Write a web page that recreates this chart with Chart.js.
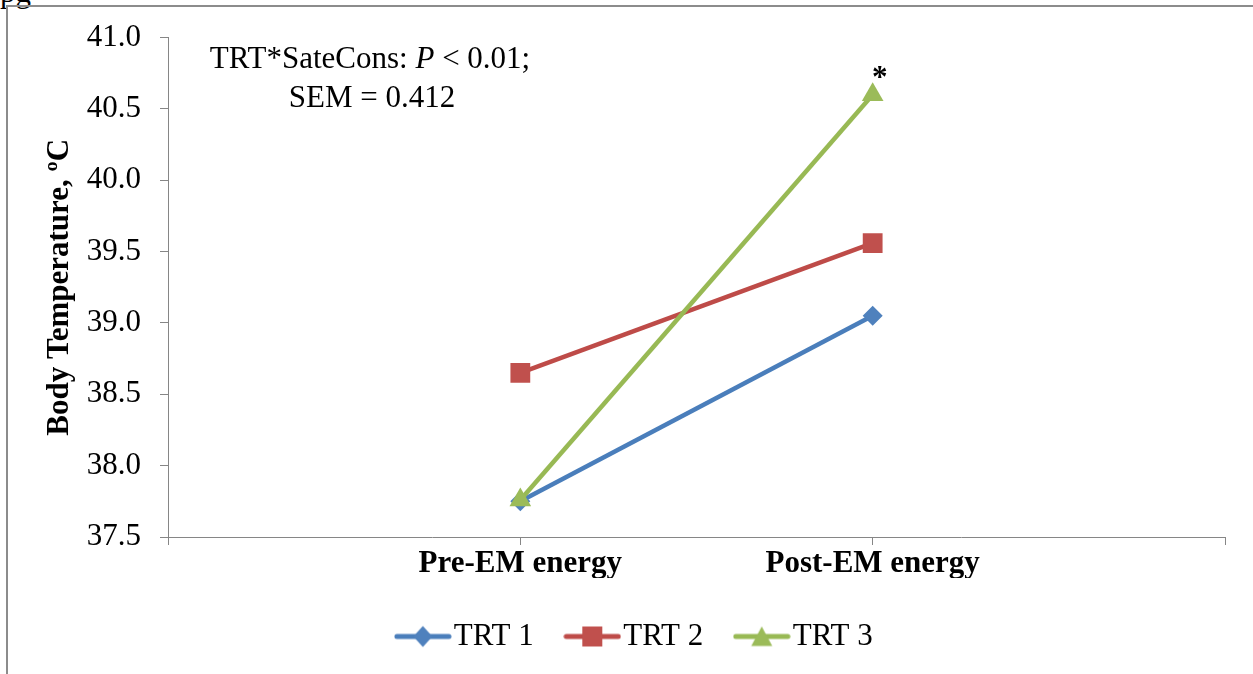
<!DOCTYPE html>
<html>
<head>
<meta charset="utf-8">
<script src="https://cdn.jsdelivr.net/npm/chart.js@4.4.0/dist/chart.umd.min.js"></script>
<style>
  body { margin: 0; background: #fff; overflow: hidden; }
  #wrap { position: relative; width: 1253px; height: 674px; }
  #frame { position: absolute; left: 6px; top: 5px; width: 1300px; height: 700px; border-left: 2px solid #8c8c8c; border-top: 2px solid #8c8c8c; }
  #pg { position: absolute; left: 0; top: -26px; font: 31px 'Liberation Serif', 'Times New Roman', serif; }
  canvas { position: absolute; left: 0; top: 0; }
</style>
</head>
<body>
<div id="wrap">
  <div id="pg">pg</div>
  <div id="frame"></div>
  <canvas id="tempChart" width="1253" height="674"></canvas>
</div>
<script>
const serif = "'Liberation Serif', 'Times New Roman', serif";
const axisGray = '#868686';

const categories = ['', 'Pre-EM energy', 'Post-EM energy', ''];
const seriesNames = ['TRT 1', 'TRT 2', 'TRT 3'];
const trt1 = [null, 37.75, 39.05, null];
const trt2 = [null, 38.65, 39.56, null];
const trt3 = [null, 37.76, 40.60, null];
const yMin = 37.5;
const yMax = 41.0;
const yStep = 0.5;

const markerColors = ['#4F81BD', '#C0504D', '#9BBB59'];
const lineColors = ['#4A7EBB', '#BE4B48', '#98B954'];

// legend icons: short line with the marker in the middle
function legendIcon(lineColor, fill, shape) {
    const c = document.createElement('canvas');
    c.width = 58;
    c.height = 24;
    const g = c.getContext('2d');
    g.strokeStyle = lineColor;
    g.lineWidth = 5;
    g.lineCap = 'round';
    g.beginPath();
    g.moveTo(3, 12);
    g.lineTo(55, 12);
    g.stroke();
    g.fillStyle = fill;
    g.beginPath();
    if (shape === 'diamond') {
        g.moveTo(29, 1.5); g.lineTo(38.5, 12); g.lineTo(29, 22.5); g.lineTo(19.5, 12);
    } else if (shape === 'square') {
        g.rect(19, 2, 20, 20);
    } else {
        g.moveTo(29, 2); g.lineTo(39.5, 21.5); g.lineTo(18.5, 21.5);
    }
    g.closePath();
    g.fill();
    return c;
}
const icons = [
    legendIcon(lineColors[0], markerColors[0], 'diamond'),
    legendIcon(lineColors[1], markerColors[1], 'square'),
    legendIcon(lineColors[2], markerColors[2], 'triangle')
];

const notes = {
    id: 'notes',
    afterDraw(chart) {
        const ctx = chart.ctx;
        const x = chart.scales.x;
        const y = chart.scales.y;
        ctx.save();
        ctx.fillStyle = '#000';
        ctx.textBaseline = 'alphabetic';
        // first line with italic P
        const parts = [
            ['TRT*SateCons: ', 'normal'],
            ['P', 'italic'],
            [' < 0.01;', 'normal']
        ];
        let total = 0;
        parts.forEach(p => {
            ctx.font = p[1] + ' 31px ' + serif;
            total += ctx.measureText(p[0]).width;
        });
        let cx = 370 - total / 2;
        parts.forEach(p => {
            ctx.font = p[1] + ' 31px ' + serif;
            ctx.textAlign = 'left';
            ctx.fillText(p[0], cx, 68);
            cx += ctx.measureText(p[0]).width;
        });
        ctx.font = '31px ' + serif;
        ctx.textAlign = 'center';
        ctx.fillText('SEM = 0.412', 372, 107);
        // significance mark over TRT 3 post
        ctx.font = 'bold 31px ' + serif;
        ctx.fillText('*', x.getPixelForValue(2) + 7, y.getPixelForValue(trt3[2]) - 8);
        ctx.restore();
    }
};

function series(label, data, i, shape, radius, order) {
    return {
        label: label,
        data: data,
        borderColor: lineColors[i],
        backgroundColor: markerColors[i],
        pointBackgroundColor: markerColors[i],
        pointBorderColor: markerColors[i],
        pointBorderWidth: 0,
        pointStyle: shape,
        pointRadius: radius,
        borderWidth: 4.5,
        tension: 0,
        order: order
    };
}

new Chart(document.getElementById('tempChart'), {
    type: 'line',
    data: {
        labels: categories,
        datasets: [
            series(seriesNames[0], trt1, 0, 'rectRot', 10, 3),
            series(seriesNames[1], trt2, 1, 'rect', 14, 2),
            series(seriesNames[2], trt3, 2, 'triangle', 12.5, 1)
        ]
    },
    options: {
        responsive: false,
        animation: false,
        devicePixelRatio: 1,
        layout: {
            padding: { left: 55, right: 28, top: 35, bottom: 12 }
        },
        plugins: {
            legend: {
                position: 'bottom',
                labels: {
                    usePointStyle: true,
                    pointStyleWidth: 31,
                    padding: 43,
                    color: '#000',
                    font: { family: serif, size: 31 },
                    generateLabels: chart => chart.data.datasets.map((ds, i) => ({
                        text: ds.label,
                        pointStyle: icons[i],
                        fillStyle: ds.backgroundColor,
                        strokeStyle: ds.borderColor,
                        lineWidth: 0,
                        hidden: false,
                        datasetIndex: i
                    }))
                }
            },
            tooltip: { enabled: false }
        },
        scales: {
            x: {
                offset: false,
                afterFit: s => { s.height = 41; },
                grid: { drawOnChartArea: false, tickLength: 8, color: axisGray },
                border: { color: axisGray, width: 1 },
                ticks: {
                    autoSkip: false,
                    maxRotation: 0,
                    padding: 0,
                    color: '#000',
                    font: { family: serif, size: 31, weight: 'bold' }
                }
            },
            y: {
                min: yMin,
                max: yMax,
                afterFit: s => { s.width = 113; },
                grid: { drawOnChartArea: false, tickLength: 8, color: axisGray },
                border: { color: axisGray, width: 1 },
                ticks: {
                    stepSize: yStep,
                    padding: 19,
                    color: '#000',
                    font: { family: serif, size: 31 },
                    callback: v => v.toFixed(1)
                },
                title: {
                    display: true,
                    text: 'Body Temperature, ºC',
                    color: '#000',
                    font: { family: serif, size: 31, weight: 'bold' },
                    padding: { top: -14, bottom: 0 }
                }
            }
        }
    },
    plugins: [notes]
});
</script>
</body>
</html>
